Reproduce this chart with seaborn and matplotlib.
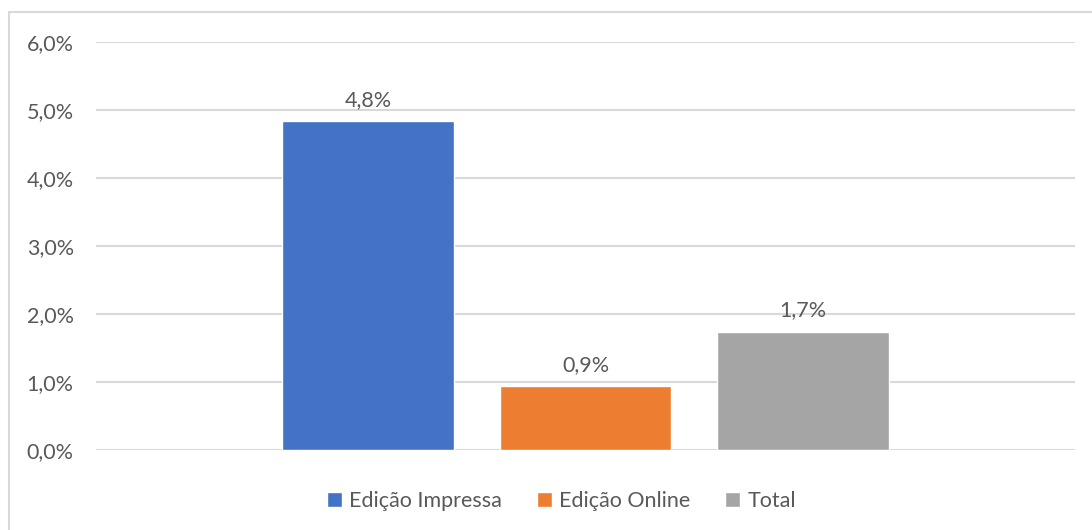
import matplotlib
matplotlib.use("Agg")
import matplotlib.pyplot as plt
import matplotlib.patches as mpatches
import seaborn as sns
import pandas as pd

# --- data ---
series = ["Edição Impressa", "Edição Online", "Total"]
values = [4.84, 0.945, 1.74]  # percent
colors = ["#4472C4", "#ED7D31", "#A5A5A5"]
y_ticks = [0, 1, 2, 3, 4, 5, 6]

df = pd.DataFrame({"serie": series, "valor": values})

sns.set_style("white")
plt.rcParams["font.family"] = ["Lato", "DejaVu Sans"]
text_color = "#595959"
grid_color = "#D9D9D9"

fig = plt.figure(figsize=(10.92, 5.30), dpi=100)
ax = fig.add_axes([96 / 1092, 1 - 450 / 530, (1075 - 96) / 1092, (450 - 42) / 530])

# chart area border (runs off the right and bottom edges like the reference)
fig.patches.append(mpatches.Rectangle((9 / 1092, -0.1), 1.2, 1.1 - 12 / 530,
                                      transform=fig.transFigure, fill=False,
                                      edgecolor=grid_color, linewidth=1.5, zorder=0))

sns.barplot(data=df, x="serie", y="valor", hue="serie", palette=colors,
            width=0.79, ax=ax, legend=True, saturation=1)

ax.set_ylim(0, 6)
ax.set_xlim(-1.25, 3.25)
ax.set_yticks(y_ticks)
ax.set_yticklabels([f"{t:.1f}%".replace(".", ",") for t in y_ticks])
ax.set_xticks([])
ax.set_xlabel("")
ax.set_ylabel("")
ax.tick_params(axis="y", length=0, pad=16, labelsize=15.5, labelcolor=text_color)
ax.yaxis.grid(True, color=grid_color, linewidth=1.5)
ax.set_axisbelow(True)
for sp in ax.spines.values():
    sp.set_visible(False)

for cont in ax.containers:
    ax.bar_label(cont, labels=[f"{v:.1f}%".replace(".", ",") for v in cont.datavalues],
                 padding=8, fontsize=15.5, color=text_color)

leg = ax.legend(loc="center", bbox_to_anchor=(561.5 / 1092, 1 - 501 / 530),
                bbox_transform=fig.transFigure, ncol=3, frameon=False, fontsize=15.5,
                handlelength=0.7, handleheight=0.7, handletextpad=0.35, columnspacing=1.6)
for t in leg.get_texts():
    t.set_color(text_color)

fig.savefig("out.png", dpi=100)
